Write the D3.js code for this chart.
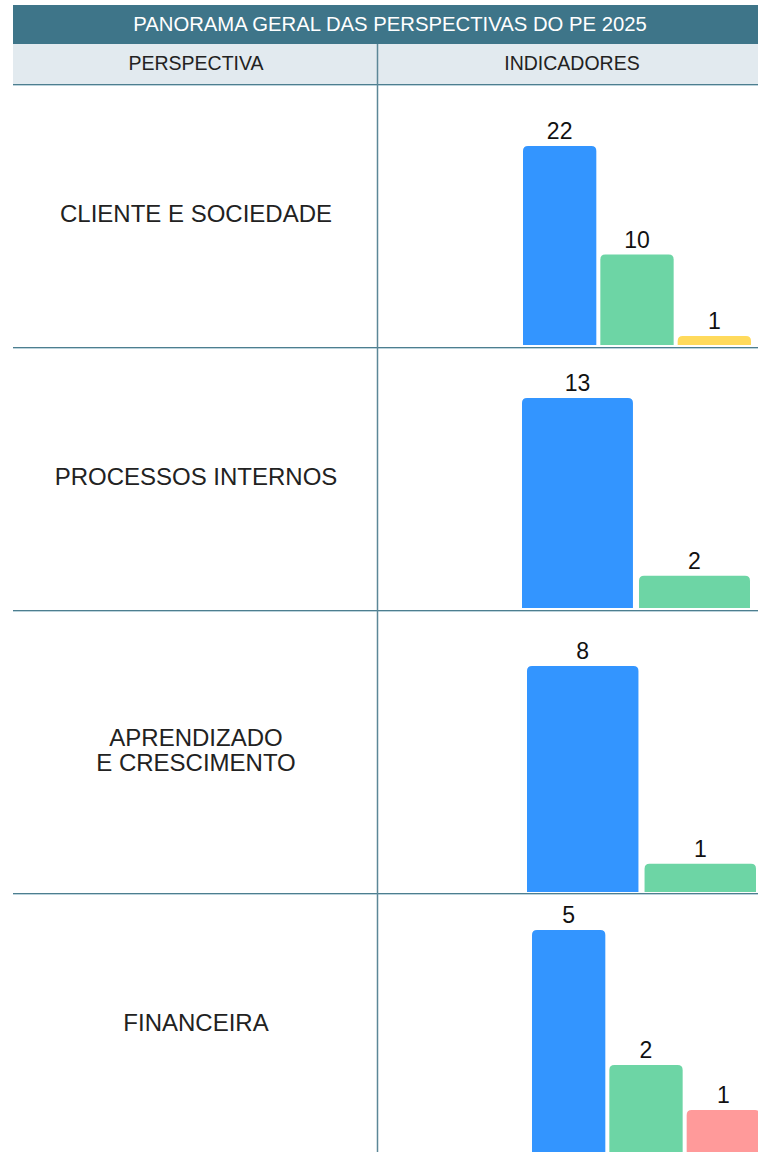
<!DOCTYPE html>
<html>
<head>
<meta charset="utf-8">
<script src="https://cdn.jsdelivr.net/npm/d3@7"></script>
<style>
	body { margin: 0; background: #fff; }
	svg { display: block; font-family: "Liberation Sans", Arial, sans-serif; }
</style>
</head>
<body>
<script>
var title = 'PANORAMA GERAL DAS PERSPECTIVAS DO PE 2025';
var headers = ['PERSPECTIVA', 'INDICADORES'];
var perspectivas = ['CLIENTE E SOCIEDADE', 'PROCESSOS INTERNOS', 'APRENDIZADO\nE CRESCIMENTO', 'FINANCEIRA'];
var indicadores = [
	[22, 10, 1],
	[13, 2],
	[8, 1],
	[5, 2, 1]
];
var cores = [
	['#3395ff', '#6dd5a5', '#ffda5c'],
	['#3395ff', '#6dd5a5'],
	['#3395ff', '#6dd5a5'],
	['#3395ff', '#6dd5a5', '#ff9a9a']
];

// geometria de cada linha da tabela
var W = 758, H = 1152;
var rowTop = [84, 347, 610, 893];
var rowBottom = [347, 610, 893, 1155];
var baseY = [345, 608, 892, 1155];
var maxTopY = [146, 398, 666, 930];
var xRange = [[523, 751], [522, 750], [527, 756], [532, 760]];

var svg = d3.select('body').append('svg').attr('width', W).attr('height', H);

// cabeçalho
svg.append('rect').attr('x', 13).attr('y', 5).attr('width', W - 13).attr('height', 39).attr('fill', '#3e7589');
svg.append('text').attr('x', 390).attr('y', 24).attr('dy', '0.36em').attr('text-anchor', 'middle')
	.attr('fill', '#fff').style('font-size', '20.3px').text(title);
svg.append('rect').attr('x', 13).attr('y', 44).attr('width', W - 13).attr('height', 40).attr('fill', '#e2eaef');
svg.selectAll('.hd').data(headers).enter().append('text').attr('class', 'hd')
	.attr('x', (d, i) => i == 0 ? 196 : 572).attr('y', 63).attr('dy', '0.36em').attr('text-anchor', 'middle')
	.attr('fill', '#222').style('font-size', '19.5px').text(d => d);

// barras
perspectivas.forEach(function(nome, r){
	var vals = indicadores[r];
	var x = d3.scaleBand().domain(d3.range(vals.length)).range(xRange[r]).paddingInner(0.052);
	var y = d3.scaleLinear().domain([0, d3.max(vals)]).range([baseY[r], maxTopY[r]]);
	var g = svg.append('g');
	g.selectAll('path').data(vals).enter().append('path')
		.attr('fill', (d, i) => cores[r][i])
		.attr('d', function(d, i){
			var x0 = x(i), w = x.bandwidth(), y0 = y(d), h = baseY[r] - y0, rr = Math.min(5, h);
			return 'M' + x0 + ',' + baseY[r] + 'V' + (y0 + rr) + 'Q' + x0 + ',' + y0 + ' ' + (x0 + rr) + ',' + y0
				+ 'H' + (x0 + w - rr) + 'Q' + (x0 + w) + ',' + y0 + ' ' + (x0 + w) + ',' + (y0 + rr) + 'V' + baseY[r] + 'Z';
		});
	g.selectAll('text').data(vals).enter().append('text')
		.attr('x', (d, i) => x(i) + x.bandwidth() / 2).attr('y', d => y(d) - 7)
		.attr('text-anchor', 'middle').attr('fill', '#111').style('font-size', '23px').text(d => d);

	var linhas = nome.split('\n');
	var cy = (rowTop[r] + rowBottom[r]) / 2 - 2;
	svg.append('text').attr('x', 196).attr('text-anchor', 'middle').attr('fill', '#222').style('font-size', '24px')
		.selectAll('tspan').data(linhas).enter().append('tspan')
		.attr('x', 196).attr('y', (d, i) => cy + (i - (linhas.length - 1) / 2) * 25).attr('dy', '0.36em').text(d => d);
});

// linhas da grade
var sep = [84].concat(rowBottom.slice(0, 3));
svg.selectAll('.sep').data(sep).enter().append('line').attr('class', 'sep')
	.attr('x1', 13).attr('x2', W).attr('y1', d => d + 0.5).attr('y2', d => d + 0.5)
	.attr('stroke', '#4d7e8f').attr('stroke-width', 1);
svg.selectAll('.sep2').data(sep).enter().append('line').attr('class', 'sep2')
	.attr('x1', 13).attr('x2', W).attr('y1', d => d + 1.5).attr('y2', d => d + 1.5)
	.attr('stroke', '#bcd3dc').attr('stroke-width', 1);
svg.append('line').attr('x1', 377.5).attr('x2', 377.5).attr('y1', 44).attr('y2', H)
	.attr('stroke', '#5c8797').attr('stroke-width', 1.5);
</script>
</body>
</html>
